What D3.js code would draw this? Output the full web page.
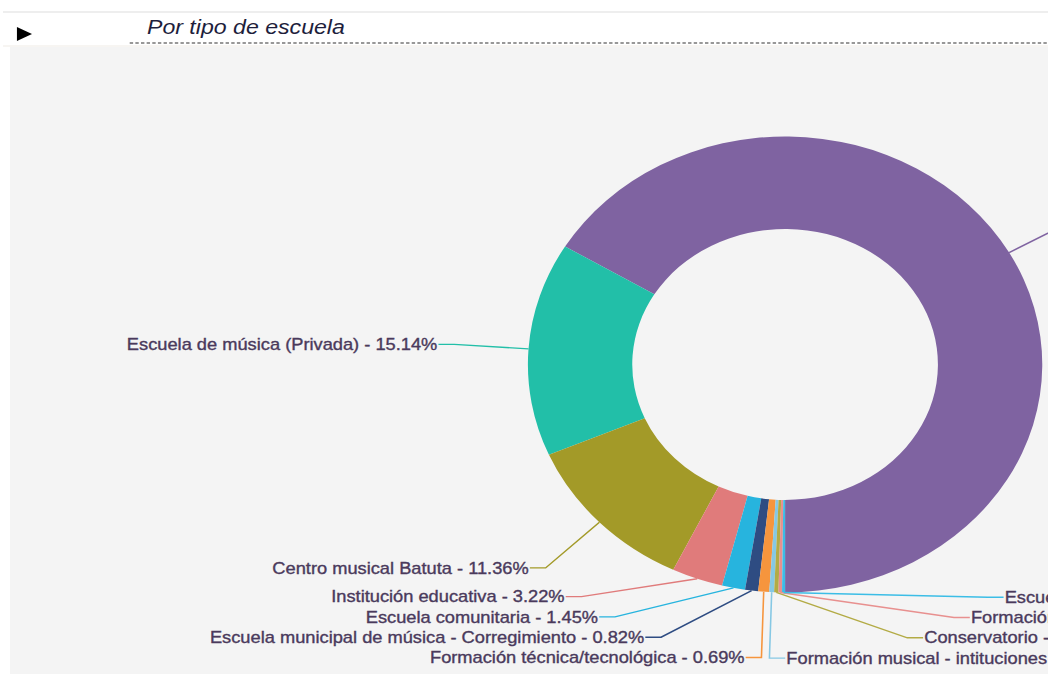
<!DOCTYPE html>
<meta charset="utf-8">
<style>
    html, body { margin: 0; padding: 0; background: #fff; overflow: hidden; }
    text { font-family: "Liberation Sans", Arial, sans-serif; }
    .label { fill: #4a3a5c; font-size: 16.2px; stroke: #4a3a5c; stroke-width: 0.35px; }
    .title { fill: #1e1e3c; font-size: 20.5px; font-style: italic; }
</style>
<svg width="1048" height="677"></svg>
<script src="https://d3js.org/d3.v7.min.js"></script>
<script>

    // data
    var categories = [
        "Escuela de música (Pública)",
        "Escuela de música (Privada)",
        "Centro musical Batuta",
        "Institución educativa",
        "Escuela comunitaria",
        "Escuela municipal de música - Corregimiento",
        "Formación técnica/tecnológica",
        "Formación musical - intituciones de educación superior",
        "Conservatorio",
        "Formación profesional",
        "Escuela municipal de música - Urbana"
    ];
    var percentages = [66.34, 15.14, 11.36, 3.22, 1.45, 0.82, 0.69, 0.30, 0.27, 0.22, 0.19];

    var palette = ["#7f63a1", "#22bfa8", "#a39a28", "#e07b7b", "#27b4de", "#2e4c82",
                   "#f6953d", "#86c8e4", "#b3ab45", "#e8908f", "#3bbde6"];

    var sx = 1.128;   // the whole picture is stretched a bit horizontally
    var svg = d3.select("svg");
    var root = svg.append("g").attr("transform", "scale(" + sx + ",1)");
    var W = 1048 / sx;

    // header
    root.append("line").attr("x1", 2.7).attr("x2", W).attr("y1", 12).attr("y2", 12)
        .attr("stroke", "#eeeeee").attr("stroke-width", 2);
    root.append("path").attr("d", "M15,27L15,41L28.4,34Z").attr("fill", "#000");
    root.append("text").attr("class", "title").attr("x", 130.3).attr("y", 34.5)
        .text("Por tipo de escuela");
    root.append("line").attr("x1", 115).attr("x2", W).attr("y1", 43).attr("y2", 43)
        .attr("stroke", "#333").attr("stroke-width", 1).attr("stroke-dasharray", "3,2");
    root.append("line").attr("x1", 2.7).attr("x2", W).attr("y1", 46).attr("y2", 46)
        .attr("stroke", "#efebe5").attr("stroke-width", 1);
    root.append("rect").attr("x", 8.9).attr("y", 47).attr("width", W).attr("height", 627)
        .attr("fill", "#f4f4f4");

    // donut
    var cx = 696, cy = 364.5, R = 228, r0 = 135.5, RL = 294, gap = 20.3;

    var data = categories.map(function(c, i) {
        return {name: c, value: percentages[i], color: palette[i % palette.length]};
    });

    var pie = d3.pie().sort(null).value(function(d) { return d.value; })
        .startAngle(Math.PI).endAngle(-Math.PI);
    var arc = d3.arc().innerRadius(r0).outerRadius(R);
    var arcs = pie(data);

    var g = root.append("g").attr("transform", "translate(" + cx + "," + cy + ")");

    g.selectAll("path.slice")
        .data(arcs)
        .enter().append("path")
        .attr("class", "slice")
        .attr("d", arc)
        .attr("fill", function(d) { return d.data.color; });

    // label layout: labels sit on a circle, pushed apart vertically
    var tau = 2 * Math.PI;
    arcs.forEach(function(d) {
        d.mid = (d.startAngle + d.endAngle) / 2;
        d.norm = ((d.mid % tau) + tau) % tau;
        d.side = Math.sin(d.mid) > -0.06 ? 1 : -1;
        d.ax = R * Math.sin(d.mid);
        d.ay = -R * Math.cos(d.mid);
        d.ly = Math.min(RL, -RL * Math.cos(d.mid));
    });

    function layout(list) {
        for (var i = list.length - 2; i >= 0; i--)
            list[i].ly = Math.min(list[i].ly, list[i + 1].ly - gap);
        for (var j = 1; j < list.length; j++)
            list[j].ly = Math.max(list[j].ly, list[j - 1].ly + gap);
    }
    var right = arcs.filter(function(d) { return d.side > 0; })
        .sort(function(a, b) { return a.norm - b.norm; });
    var left = arcs.filter(function(d) { return d.side < 0; })
        .sort(function(a, b) { return b.norm - a.norm; });
    layout(right);
    layout(left);

    arcs.forEach(function(d) {
        if (Math.abs(d.ly) >= RL - 2) {
            d.bx = d.ax - 2;
        } else {
            var bx = d.side * Math.sqrt(RL * RL - d.ly * d.ly);
            d.bx = d.side > 0 ? Math.max(bx, d.ax) : Math.min(bx, d.ax);
        }
    });

    g.selectAll("polyline.leader")
        .data(arcs)
        .enter().append("polyline")
        .attr("class", "leader")
        .attr("fill", "none")
        .attr("stroke", function(d) { return d.data.color; })
        .attr("stroke-width", 1.4)
        .attr("points", function(d) {
            return [[d.ax, d.ay], [d.bx, d.ly], [d.bx + d.side * 14, d.ly]].join(" ");
        });

    g.selectAll("text.label")
        .data(arcs)
        .enter().append("text")
        .attr("class", "label")
        .attr("x", function(d) { return d.bx + d.side * 15; })
        .attr("y", function(d) { return d.ly; })
        .attr("dy", "0.35em")
        .attr("text-anchor", function(d) { return d.side > 0 ? "start" : "end"; })
        .text(function(d) { return d.data.name + " - " + d.data.value.toFixed(2) + "%"; });

</script>
